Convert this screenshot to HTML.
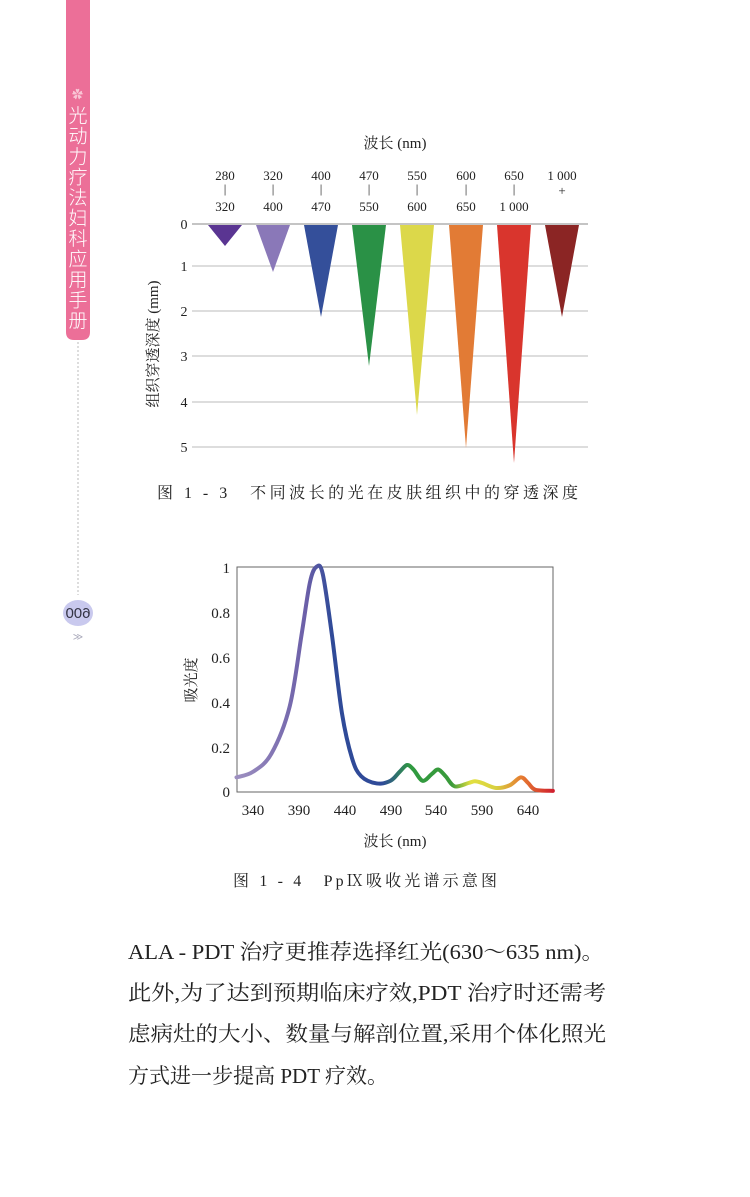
<!DOCTYPE html>
<html><head><meta charset="utf-8"><style>
html,body{margin:0;padding:0;background:#fff}
svg{display:block}
text{font-family:"Liberation Serif","Noto Serif CJK SC",serif;fill:#222}
.sb{fill:#fff;font-family:'Noto Sans CJK SC',sans-serif;font-weight:300}
</style></head><body>
<svg width="750" height="1197" viewBox="0 0 750 1197" xmlns="http://www.w3.org/2000/svg">
<defs>
<linearGradient id="spec" gradientUnits="userSpaceOnUse" x1="237" y1="0" x2="553" y2="0">
<stop offset="0" stop-color="#9d8fc0"/>
<stop offset="0.22" stop-color="#6b5fa8"/>
<stop offset="0.3" stop-color="#2f4a98"/>
<stop offset="0.46" stop-color="#2f4a98"/>
<stop offset="0.55" stop-color="#2f9a40"/>
<stop offset="0.68" stop-color="#3a9a3a"/>
<stop offset="0.74" stop-color="#e2e040"/>
<stop offset="0.82" stop-color="#d8d040"/>
<stop offset="0.9" stop-color="#e67c30"/>
<stop offset="1" stop-color="#d0202e"/>
</linearGradient>
</defs>
<!-- sidebar -->
<path d="M66 0 H90 V332 Q90 340 82 340 H74 Q66 340 66 332 Z" fill="#ec6f98"/>
<text x="72" y="98" font-size="11" style="fill:#f9c5d5">✿</text>
<g font-size="19" text-anchor="middle">
<text class="sb" x="78" y="122">光</text>
<text class="sb" x="78" y="142.5">动</text>
<text class="sb" x="78" y="163">力</text>
<text class="sb" x="78" y="183.5">疗</text>
<text class="sb" x="78" y="204">法</text>
<text class="sb" x="78" y="224.5">妇</text>
<text class="sb" x="78" y="245">科</text>
<text class="sb" x="78" y="265.5">应</text>
<text class="sb" x="78" y="286">用</text>
<text class="sb" x="78" y="306.5">手</text>
<text class="sb" x="78" y="327">册</text>
</g>
<line x1="78" y1="342" x2="78" y2="595" stroke="#bbb" stroke-width="1" stroke-dasharray="2,2"/>
<ellipse cx="78" cy="613" rx="15" ry="13" fill="#c9c9ee"/>
<text x="78" y="618" text-anchor="middle" font-size="15" transform="translate(156 0) scale(-1 1)" style="fill:#334;font-family:'Liberation Sans',sans-serif">600</text>
<text x="78" y="640" text-anchor="middle" font-size="10" style="fill:#aab;font-family:'Liberation Sans',sans-serif">≫</text>

<!-- chart 1 -->
<text x="395" y="148" text-anchor="middle" font-size="15">波长 (nm)</text>
<g stroke="#bbb" stroke-width="1">
<line x1="192" y1="224" x2="588" y2="224" stroke="#888"/>
<line x1="192" y1="266" x2="588" y2="266"/>
<line x1="192" y1="311" x2="588" y2="311"/>
<line x1="192" y1="356" x2="588" y2="356"/>
<line x1="192" y1="402" x2="588" y2="402"/>
<line x1="192" y1="447" x2="588" y2="447"/>
</g>
<g font-size="14" text-anchor="middle">
<text x="184" y="229">0</text><text x="184" y="271">1</text><text x="184" y="316">2</text>
<text x="184" y="361">3</text><text x="184" y="407">4</text><text x="184" y="452">5</text>
</g>
<text transform="translate(158 344) rotate(-90)" text-anchor="middle" font-size="15">组织穿透深度 (mm)</text>
<g font-size="13" text-anchor="middle">
<text x="225" y="180">280</text><text x="225" y="193">|</text><text x="225" y="211">320</text>
<text x="273" y="180">320</text><text x="273" y="193">|</text><text x="273" y="211">400</text>
<text x="321" y="180">400</text><text x="321" y="193">|</text><text x="321" y="211">470</text>
<text x="369" y="180">470</text><text x="369" y="193">|</text><text x="369" y="211">550</text>
<text x="417" y="180">550</text><text x="417" y="193">|</text><text x="417" y="211">600</text>
<text x="466" y="180">600</text><text x="466" y="193">|</text><text x="466" y="211">650</text>
<text x="514" y="180">650</text><text x="514" y="193">|</text><text x="514" y="211">1 000</text>
<text x="562" y="180">1 000</text><text x="562" y="195">+</text>
</g>
<polygon points="208,225 242,225 225,246" fill="#5a3592"/>
<polygon points="256,225 290,225 273,272" fill="#8a78b8"/>
<polygon points="304,225 338,225 321,317" fill="#344f9a"/>
<polygon points="352,225 386,225 369,366" fill="#2a9146"/>
<polygon points="400,225 434,225 417,415" fill="#dcd84a"/>
<polygon points="449,225 483,225 466,448" fill="#e27b35"/>
<polygon points="497,225 531,225 514,463" fill="#d9352d"/>
<polygon points="545,225 579,225 562,317" fill="#8b2524"/>
<text x="157" y="498" font-size="16" textLength="421" lengthAdjust="spacing">图 1 - 3　不同波长的光在皮肤组织中的穿透深度</text>

<!-- chart 2 -->
<rect x="237" y="567" width="316" height="225" fill="none" stroke="#666" stroke-width="1"/>
<g font-size="15" text-anchor="end">
<text x="230" y="573">1</text><text x="230" y="618">0.8</text><text x="230" y="663">0.6</text>
<text x="230" y="708">0.4</text><text x="230" y="753">0.2</text><text x="230" y="797">0</text>
</g>
<g font-size="15" text-anchor="middle">
<text x="253" y="815">340</text><text x="299" y="815">390</text><text x="345" y="815">440</text>
<text x="391" y="815">490</text><text x="436" y="815">540</text><text x="482" y="815">590</text><text x="528" y="815">640</text>
</g>
<text x="395" y="846" text-anchor="middle" font-size="15">波长 (nm)</text>
<text transform="translate(196 680) rotate(-90)" text-anchor="middle" font-size="15">吸光度</text>
<path id="curve" d="" fill="none" stroke="url(#spec)" stroke-width="4" stroke-linecap="round"/>
<text x="233" y="886" font-size="16" textLength="264" lengthAdjust="spacing">图 1 - 4　PpⅨ吸收光谱示意图</text>

<!-- paragraph -->
<g font-size="21">
<text x="128" y="959" textLength="476" lengthAdjust="spacingAndGlyphs">ALA - PDT 治疗更推荐选择红光(630～635 nm)。</text>
<text x="128" y="1000" textLength="478" lengthAdjust="spacingAndGlyphs">此外,为了达到预期临床疗效,PDT 治疗时还需考</text>
<text x="128" y="1041" textLength="478" lengthAdjust="spacingAndGlyphs">虑病灶的大小、数量与解剖位置,采用个体化照光</text>
<text x="128" y="1083" textLength="260" lengthAdjust="spacingAndGlyphs">方式进一步提高 PDT 疗效。</text>
</g>
</svg>
<script>
var d=[[322,0.065],[340,0.09],[360,0.17],[380,0.38],[393,0.7],[402,0.93],[409,1.0],[416,0.97],[426,0.7],[437,0.35],[448,0.15],[458,0.07],[475,0.038],[490,0.05],[500,0.09],[508,0.12],[515,0.1],[525,0.05],[535,0.08],[542,0.1],[550,0.07],[560,0.025],[575,0.04],[582,0.048],[590,0.04],[605,0.018],[620,0.03],[632,0.065],[640,0.04],[648,0.01],[667,0.005]];
var p=d.map(function(a){return [253+(a[0]-340)*0.917,792-a[1]*225];});
var s="M"+p[0][0]+" "+p[0][1];
for(var i=0;i<p.length-1;i++){var p0=p[i-1]||p[i],p1=p[i],p2=p[i+1],p3=p[i+2]||p2;
s+=" C"+(p1[0]+(p2[0]-p0[0])/6)+" "+(p1[1]+(p2[1]-p0[1])/6)+" "+(p2[0]-(p3[0]-p1[0])/6)+" "+(p2[1]-(p3[1]-p1[1])/6)+" "+p2[0]+" "+p2[1];}
document.getElementById("curve").setAttribute("d",s);
</script>
</body></html>
